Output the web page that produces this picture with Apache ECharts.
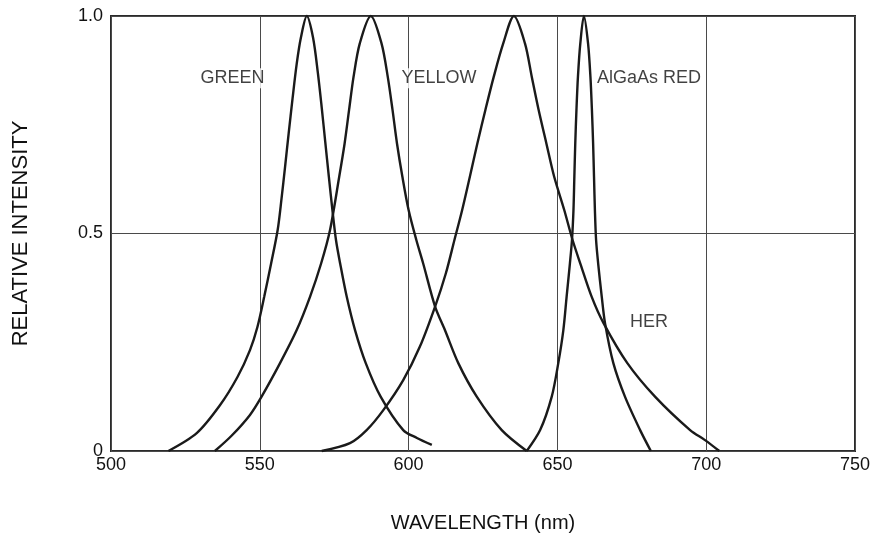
<!DOCTYPE html>
<html>
<head>
<meta charset="utf-8">
<script src="https://cdn.jsdelivr.net/npm/echarts@6/dist/echarts.min.js"></script>
<style>
html,body{margin:0;padding:0;background:#fff;}
#chart{width:877px;height:538px;}
</style>
</head>
<body>
<div id="chart"></div>
<script>
// Wavelength (nm) and relative intensity
var greenX = [519.3, 528.8, 536.6, 542.5, 546.7, 549.2, 551.5, 553.8, 556.0, 557.3, 558.5, 559.7, 561.0, 562.4, 563.8, 565.8, 567.9, 569.5, 570.8, 572.0, 573.2, 574.4, 575.6, 577.0, 579.2, 582.0, 585.6, 590.6, 598.2, 602.8, 607.8];
var greenY = [0, 0.041, 0.105, 0.170, 0.232, 0.285, 0.355, 0.431, 0.508, 0.580, 0.654, 0.730, 0.810, 0.890, 0.950, 1.0, 0.950, 0.870, 0.790, 0.710, 0.631, 0.554, 0.485, 0.431, 0.355, 0.278, 0.202, 0.125, 0.048, 0.030, 0.014];

var yellowX = [534.9, 540.5, 546.7, 550.6, 556.8, 562.4, 566.9, 570.6, 573.6, 576.7, 578.5, 580.0, 581.5, 583.6, 587.3, 590.9, 593.0, 594.6, 596.1, 597.9, 600.0, 602.6, 604.9, 608.9, 612.2, 616.7, 622.9, 631.3, 639.7];
var yellowY = [0, 0.035, 0.083, 0.125, 0.202, 0.278, 0.355, 0.431, 0.508, 0.631, 0.707, 0.784, 0.860, 0.937, 1.0, 0.937, 0.860, 0.784, 0.707, 0.631, 0.554, 0.485, 0.431, 0.332, 0.278, 0.202, 0.125, 0.048, 0];

var herX = [570.8, 580.3, 585.9, 591.5, 598.2, 603.8, 608.9, 612.5, 615.4, 618.0, 620.6, 623.1, 625.8, 628.6, 631.8, 635.4, 639.1, 641.4, 643.7, 646.3, 648.9, 652.3, 655.1, 657.7, 661.5, 665.5, 673.5, 682.8, 694.6, 699.6, 704.4];
var herY = [0, 0.018, 0.048, 0.094, 0.163, 0.240, 0.332, 0.408, 0.485, 0.554, 0.631, 0.707, 0.784, 0.860, 0.937, 1.0, 0.937, 0.860, 0.784, 0.707, 0.631, 0.554, 0.485, 0.431, 0.355, 0.294, 0.202, 0.125, 0.048, 0.025, 0];

var redX = [639.7, 644.2, 648.1, 650.3, 652.0, 653.1, 654.2, 654.9, 655.4, 655.7, 656.0, 656.4, 656.9, 657.7, 658.9, 660.3, 661.1, 661.6, 662.0, 662.3, 662.6, 663.0, 663.7, 664.9, 666.0, 668.8, 672.7, 677.8, 681.4];
var redY = [0, 0.048, 0.125, 0.202, 0.278, 0.355, 0.431, 0.485, 0.554, 0.631, 0.707, 0.784, 0.860, 0.937, 1.0, 0.937, 0.860, 0.784, 0.707, 0.631, 0.554, 0.485, 0.431, 0.355, 0.294, 0.202, 0.125, 0.048, 0];

// Curve annotations
var labelNames = ['GREEN', 'YELLOW', 'AlGaAs RED', 'HER'];
var labelX = [540.8, 610.2, 680.8, 680.8];
var labelY = [0.857, 0.857, 0.857, 0.297];

// Axis ticks
var xTicks = [500, 550, 600, 650, 700, 750];
var yTicks = [0, 0.5, 1.0];
var yTickLabels = ['0', '0.5', '1.0'];

function pairs(xs, ys) { return xs.map(function (x, i) { return [x, ys[i]]; }); }

var FONT = 'Liberation Sans, Arial, Helvetica, sans-serif';
var INK = '#111';

function curve(name, xs, ys) {
  return {
    name: name, type: 'line', data: pairs(xs, ys),
    smooth: 0.3, symbol: 'none', clip: false, z: 5,
    lineStyle: { color: '#1a1a1a', width: 2.4 }
  };
}

var chart = echarts.init(document.getElementById('chart'), null, { renderer: 'canvas' });
chart.setOption({
  backgroundColor: '#fff',
  animation: false,
  grid: { left: 111, right: 22, top: 16, bottom: 87, show: true, borderColor: '#2a2a2a', borderWidth: 2, backgroundColor: 'transparent' },
  xAxis: {
    type: 'value', min: xTicks[0], max: xTicks[xTicks.length - 1], interval: 50,
    name: 'WAVELENGTH (nm)', nameLocation: 'middle', nameGap: 62,
    nameTextStyle: { fontFamily: FONT, fontSize: 20, color: INK },
    axisLine: { show: false }, axisTick: { show: false },
    axisLabel: { fontFamily: FONT, fontSize: 18, color: INK, margin: 5 },
    splitLine: { show: true, lineStyle: { color: '#4a4a4a', width: 1 } }
  },
  yAxis: {
    type: 'value', min: yTicks[0], max: yTicks[yTicks.length - 1], interval: 0.5,
    name: 'RELATIVE INTENSITY', nameLocation: 'middle', nameGap: 79, nameRotate: 90,
    nameTextStyle: { fontFamily: FONT, fontSize: 22, color: INK },
    axisLine: { show: false }, axisTick: { show: false },
    axisLabel: {
      fontFamily: FONT, fontSize: 18, color: INK, margin: 8,
      formatter: function (v) { var i = yTicks.indexOf(v); return i >= 0 ? yTickLabels[i] : ''; }
    },
    splitLine: { show: true, lineStyle: { color: '#4a4a4a', width: 1 } }
  },
  series: [
    curve('GREEN', greenX, greenY),
    curve('YELLOW', yellowX, yellowY),
    curve('HER', herX, herY),
    curve('AlGaAs RED', redX, redY),
    {
      type: 'scatter', symbolSize: 0, z: 3, silent: true,
      data: labelNames.map(function (n, i) { return { name: n, value: [labelX[i], labelY[i]] }; }),
      label: {
        show: true, position: 'inside', formatter: '{b}',
        fontFamily: FONT, fontSize: 18, color: INK,
        backgroundColor: '#fff', padding: [1, 2]
      }
    }
  ]
});
</script>
</body>
</html>
